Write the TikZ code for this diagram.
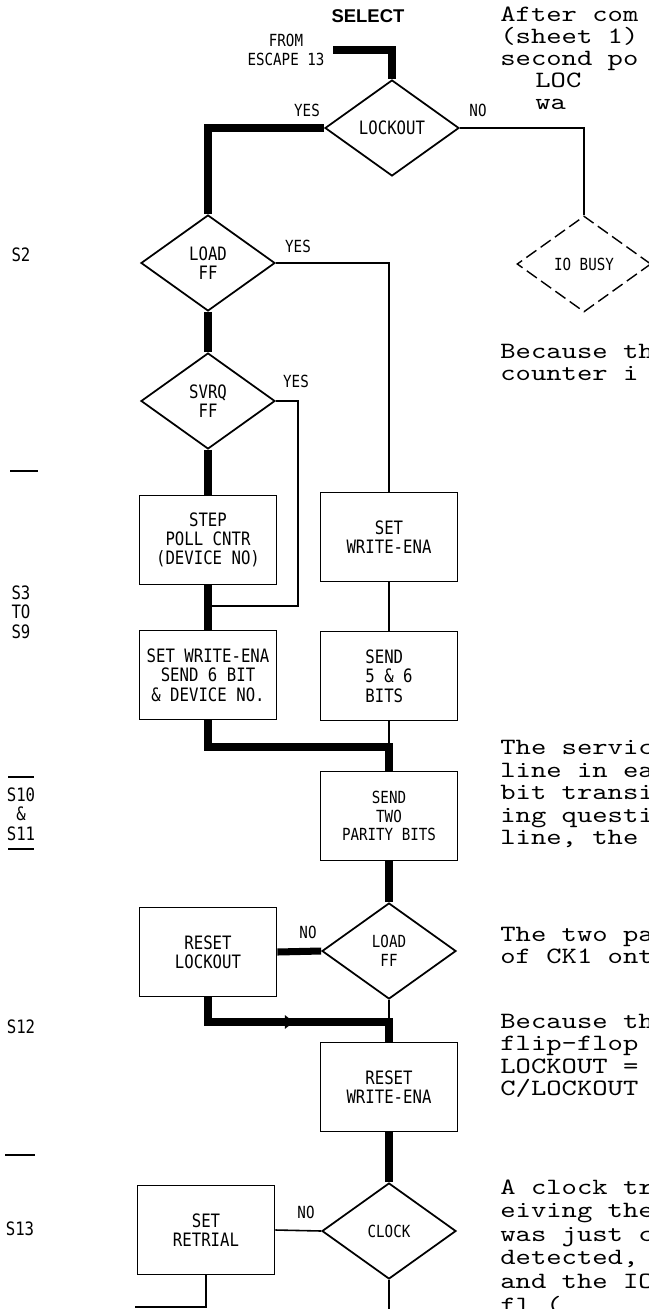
\documentclass[tikz,border=0pt]{standalone}
\usepackage{fontspec}
\newfontfamily\lblfont[FakeStretch=0.85]{DejaVu Sans Mono}
\newfontfamily\selfont{Liberation Sans}
\newfontfamily\typefont[FakeStretch=1.25]{lmmono10-regular.otf}
\usetikzlibrary{shapes.geometric,arrows.meta,decorations.markings}

\begin{document}
\begin{tikzpicture}[
  x=0.02cm, y=-0.02cm,
  lbl/.style={font=\lblfont\fontsize{10.5}{11}\selectfont, align=center, inner sep=0pt},
  lblsmall/.style={font=\lblfont\fontsize{9.5}{10.5}\selectfont, align=center, inner sep=0pt},
  box/.style={draw, line width=1pt, minimum width=2.74cm, minimum height=1.78cm, align=center, inner sep=1pt, font=\lblfont\fontsize{10.5}{11}\selectfont},
  dec/.style={diamond, draw, line width=1pt, minimum width=2.68cm, minimum height=1.92cm, inner sep=0pt, align=center, font=\lblfont\fontsize{10.5}{11}\selectfont},
  decbusy/.style={dec, line width=0.8pt, dash pattern=on 7pt off 3pt, font=\lblfont\fontsize{9.5}{10.5}\selectfont},
  main/.style={line width=4pt},
  flow/.style={line width=0.9pt},
  bar/.style={line width=0.9pt},
  marked/.style={postaction={decorate}, decoration={markings, mark=at position 0.49 with {\arrow{Triangle[length=5pt,width=7.5pt]}}}},
  typeline/.style={font=\typefont\fontsize{13.3}{12.8}\selectfont, anchor=base west, inner sep=0pt}
]
\useasboundingbox (0,0) rectangle (649,1309);
\clip (0,0) rectangle (649,1309);

% entry
\node[font=\selfont\bfseries\fontsize{10.5}{12}\selectfont, inner sep=0pt] (sel) at (368,16) {SELECT};
\node[lblsmall] (from) at (286,50) {FROM\\ESCAPE 13};
\coordinate (esc) at (333,50);

% decisions
\node[dec] (lock) at (392,128) {LOCKOUT};
\node[decbusy] (busy) at (584,264) {IO BUSY};
\node[dec] (load1) at (208,263) {LOAD\\FF};
\node[dec] (svrq) at (208,401) {SVRQ\\FF};
\node[dec, font=\lblfont\fontsize{9.5}{10.5}\selectfont] (load2) at (389,951) {LOAD\\FF};
\node[dec, font=\lblfont\fontsize{9.5}{10.5}\selectfont] (clock) at (389,1231) {CLOCK};

% process boxes
\node[box] (step) at (208,540) {STEP\\POLL CNTR\\(DEVICE NO)};
\node[box] (setwe) at (389,537) {SET\\WRITE-ENA};
\node[box] (wsend) at (208,675) {SET WRITE-ENA\\SEND 6 BIT\\\& DEVICE NO.};
\node[box, align=left] (send56) at (389,676) {SEND\\5 \& 6\\BITS};
\node[box, font=\lblfont\fontsize{9.5}{10.5}\selectfont] (parity) at (389,816) {SEND\\TWO\\PARITY BITS};
\node[box] (reset) at (208,952) {RESET\\LOCKOUT};
\node[box] (rwe) at (389,1087) {RESET\\WRITE-ENA};
\node[box] (retrial) at (206,1230) {SET\\RETRIAL};

% branch labels
\node[lblsmall] (y1) at (307,110) {YES};
\node[lblsmall] (n1) at (478,110) {NO};
\node[lblsmall] (y2) at (298,246) {YES};
\node[lblsmall] (y3) at (296,381) {YES};
\node[lblsmall] (n2) at (308,932) {NO};
\node[lblsmall] (n3) at (306,1212) {NO};

% junctions
\coordinate (j1) at (208,606);
\coordinate (j2) at (389,747);
\coordinate (j3) at (389,1022);
\coordinate (out1) at (135,1307);
\coordinate (out2) at (389,1320);

% connectors
\draw[main] (esc) -| (lock.north);
\draw[main] (lock.west) -| (load1.north);
\draw[flow] (lock.east) -| (busy.north);
\draw[main] (load1.south) -- (svrq.north);
\draw[flow] (load1.east) -| (setwe.north);
\draw[main] (svrq.south) -- (step.north);
\draw[flow] (svrq.east) -- ++(22,0) |- (j1);
\draw[main] (step.south) -- (wsend.north);
\draw[flow] (setwe.south) -- (send56.north);
\draw[flow] (send56.south) -- (j2);
\draw[main] (wsend.south) |- (j2) -- (parity.north);
\draw[main] (parity.south) -- (load2.north);
\draw[main] (load2.west) -- (reset.east);
\draw[flow] (load2.south) -- (j3);
\draw[main, marked] (reset.south) |- (j3) -- (rwe.north);
\draw[main] (rwe.south) -- (clock.north);
\draw[flow] (clock.west) -- (retrial.east);
\draw[flow] (retrial.south) |- (out1);
\draw[flow] (clock.south) -- (out2);

% state column
\node[lbl] (s2) at (21,255) {S2};
\draw[bar] (10,471) -- (38,471);
\node[lbl] (s3) at (21,612) {S3\\TO\\S9};
\draw[bar] (8,777) -- (34,777);
\node[lbl] (s10) at (21,814) {S10\\\&\\S11};
\draw[bar] (8,849) -- (34,849);
\node[lbl] (s12) at (21,1027) {S12};
\draw[bar] (5,1155) -- (35,1155);
\node[lbl] (s13) at (20,1229) {S13};

% running text of the page
\foreach \txt/\yy [count=\i] in {After com/15, (sheet 1)/37, second po/59,
  Because th/352, counter i/374,
  The servic/748, line in ea/771, bit transi/793, ing questi/816, {line, the}/838,
  The two pa/935, of CK1 ont/957,
  Because th/1022, flip-flop/1044, LOCKOUT =/1067, {C/LOCKOUT}/1089,
  A clock tr/1188, eiving the/1211, was just c/1235, {detected,}/1258, and the IO/1282, fl (/1306}
  \node[typeline] (t\i) at (500,\yy+6) {\txt};
\node[typeline] (loc) at (535,87) {LOC};
\node[typeline] (wa) at (535,109) {wa};

\end{tikzpicture}
\end{document}
